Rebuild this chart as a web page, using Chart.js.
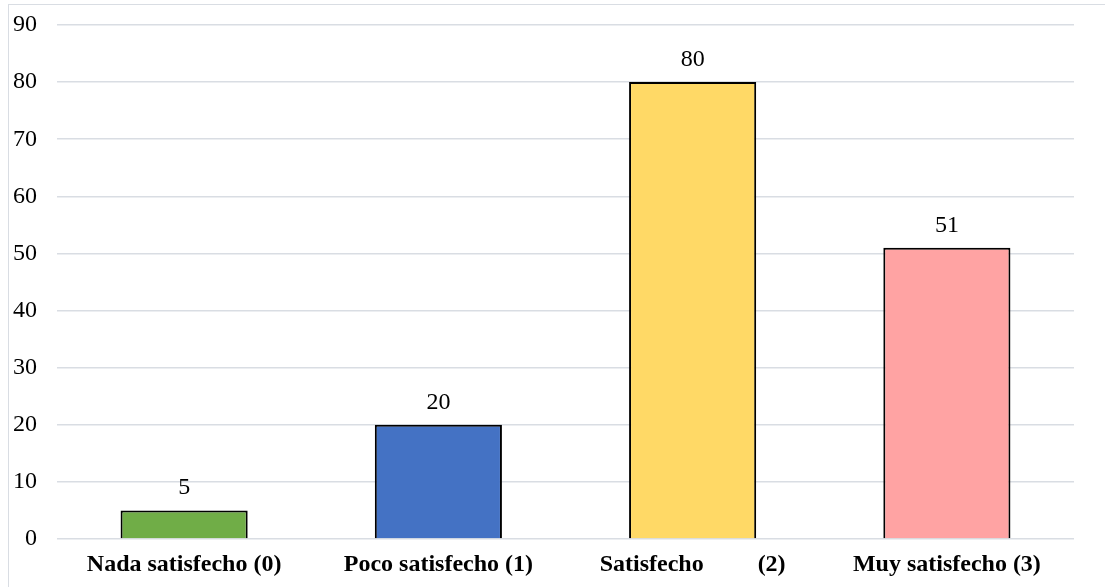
<!DOCTYPE html>
<html>
<head>
<meta charset="utf-8">
<script src="https://cdn.jsdelivr.net/npm/chart.js@4/dist/chart.umd.min.js"></script>
<style>
  html, body { margin: 0; padding: 0; background: #ffffff; overflow: hidden; }
  #wrap { position: relative; width: 1105px; height: 587px; }
  #frame { position: absolute; left: 8px; top: 4px; width: 1200px; height: 700px;
           border: 1.5px solid #d9dde3; box-sizing: border-box; pointer-events: none; }
  canvas { position: absolute; left: 0; top: 0; }
</style>
</head>
<body>
<div id="wrap">
  <canvas id="chart" width="1105" height="587"></canvas>
  <div id="frame"></div>
</div>
<script>
// Satisfaction levels and respondent counts
const categories = ["Nada satisfecho (0)", "Poco satisfecho (1)", "Satisfecho         (2)", "Muy satisfecho (3)"];
const counts = [5, 20, 80, 51];
const barColors = ["#70ad47", "#4472c4", "#ffd966", "#ffa3a3"];
const yTicks = [0, 10, 20, 30, 40, 50, 60, 70, 80, 90];

const serif = "'Liberation Serif', 'Times New Roman', serif";

// Writes each bar's value above it
const valueLabels = {
  id: "valueLabels",
  afterDatasetsDraw(chart) {
    const ctx = chart.ctx;
    const meta = chart.getDatasetMeta(0);
    ctx.save();
    ctx.font = "24px " + serif;
    ctx.fillStyle = "#000000";
    ctx.textAlign = "center";
    ctx.textBaseline = "alphabetic";
    meta.data.forEach((bar, i) => {
      ctx.fillText(String(counts[i]), bar.x, bar.y - 16);
    });
    ctx.restore();
  }
};

new Chart(document.getElementById("chart"), {
  type: "bar",
  data: {
    labels: categories,
    datasets: [{
      data: counts,
      backgroundColor: barColors,
      borderColor: "#000000",
      borderWidth: 2,
      borderSkipped: "bottom",
      categoryPercentage: 1.0,
      barPercentage: 0.5
    }]
  },
  options: {
    responsive: false,
    animation: false,
    devicePixelRatio: 1,
    layout: { padding: { top: 25, right: 31, bottom: 0, left: 0 } },
    plugins: {
      legend: { display: false },
      tooltip: { enabled: false }
    },
    scales: {
      x: {
        grid: { display: false, drawTicks: false },
        border: { display: false },
        ticks: {
          color: "#000000",
          font: { family: serif, size: 24, weight: "bold" },
          padding: 11,
          maxRotation: 0,
          autoSkip: false
        },
        afterFit(scale) {
          scale.height = 48;
          scale.paddingLeft = 0;
          scale.paddingRight = 0;
        }
      },
      y: {
        min: 0,
        max: 90,
        afterBuildTicks(scale) { scale.ticks = yTicks.map(v => ({ value: v })); },
        grid: { color: "#d9dde3", lineWidth: 1.5, drawTicks: false },
        border: { display: false },
        ticks: {
          color: "#000000",
          font: { family: serif, size: 24 },
          padding: 20
        },
        afterFit(scale) {
          scale.width = 57;
          scale.paddingTop = 0;
          scale.paddingBottom = 0;
        }
      }
    }
  },
  plugins: [valueLabels]
});
</script>
</body>
</html>
